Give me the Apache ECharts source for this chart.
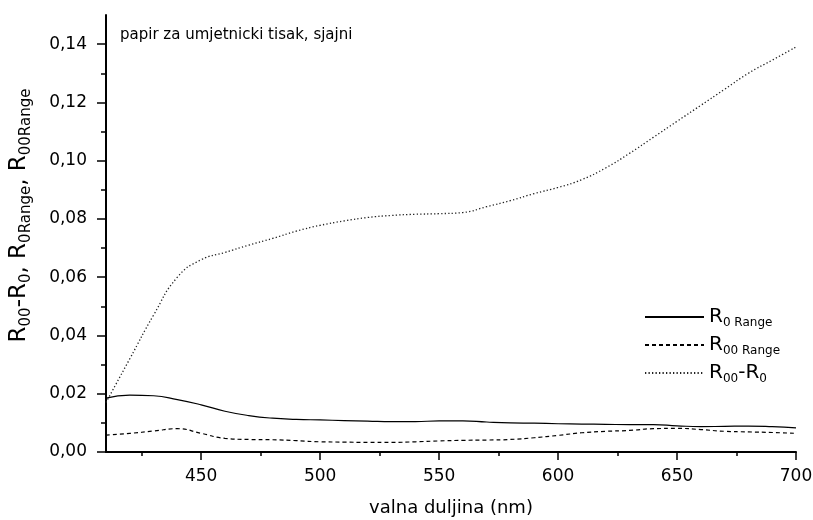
<!DOCTYPE html>
<html>
<head>
<meta charset="utf-8">
<script src="https://cdn.jsdelivr.net/npm/echarts@6/dist/echarts.min.js"></script>
<style>
html,body{margin:0;padding:0;background:#fff;}
#c{width:813px;height:520px;}
</style>
</head>
<body>
<div id="c"></div>
<script>
// ---- data ----
const wavelengths = [410,420,430,440,450,460,470,480,490,500,510,520,530,540,550,560,570,580,590,600,610,620,630,640,650,660,670,680,690,700];
const r0Range = [0.0185,0.0195,0.0193,0.0180,0.0162,0.0140,0.0125,0.0116,0.0112,0.0110,0.0108,0.0106,0.0104,0.0104,0.0107,0.0107,0.0103,0.0100,0.0099,0.0097,0.0096,0.0095,0.0094,0.0094,0.0090,0.0087,0.0088,0.0089,0.0087,0.0083];
const r00Range = [0.0058,0.0064,0.0072,0.0080,0.0064,0.0047,0.0043,0.0042,0.0039,0.0035,0.0034,0.0033,0.0033,0.0035,0.0038,0.0040,0.0041,0.0043,0.0049,0.0057,0.0066,0.0071,0.0074,0.0080,0.0081,0.0077,0.0071,0.0069,0.0067,0.0064];
const r00MinusR0 = [0.017,0.032,0.047,0.060,0.066,0.0685,0.071,0.0733,0.0758,0.0778,0.0793,0.0805,0.0812,0.0816,0.0818,0.0822,0.0842,0.0863,0.0887,0.0908,0.0935,0.0975,0.1025,0.108,0.1135,0.119,0.1245,0.130,0.1345,0.139];
const seriesNames = ['R0 Range','R00 Range','R00-R0'];
const xTicks = [450,500,550,600,650,700];
const xMinorTicks = [425,475,525,575,625,675];
const yTicks = [0,0.02,0.04,0.06,0.08,0.10,0.12,0.14];
const yMinorTicks = [0.01,0.03,0.05,0.07,0.09,0.11,0.13];
const titleText = 'papir za umjetnicki tisak, sjajni';
const xTitle = 'valna duljina (nm)';

// ---- chart ----
const FONT = 'DejaVu Sans';
const pairs = arr => wavelengths.map((w,i) => [w, arr[i]]);
const fmtY = v => v.toFixed(2).replace('.', ',');
const legendRich = {
  m: {fontFamily: FONT, fontSize: 20, lineHeight: 24, color: '#000', verticalAlign: 'middle'},
  s: {fontFamily: FONT, fontSize: 12, lineHeight: 10, color: '#000', verticalAlign: 'bottom'}
};
const legendLabels = {
  'R0 Range': '{m|R}{s|0 Range}',
  'R00 Range': '{m|R}{s|00 Range}',
  'R00-R0': '{m|R}{s|00}{m|-R}{s|0}'
};
const chart = echarts.init(document.getElementById('c'), null, {renderer: 'canvas'});
chart.setOption({
  animation: false,
  backgroundColor: '#fff',
  title: {
    text: titleText, left: 120, top: 28, padding: 0,
    textStyle: {fontFamily: FONT, fontSize: 15, fontWeight: 'normal', color: '#000'}
  },
  grid: {left: 106, right: 17, top: 15, bottom: 68, outerBoundsMode: 'none', containLabel: false},
  legend: {
    orient: 'vertical', left: 639, top: 302, itemWidth: 59, itemHeight: 14, itemGap: 6,
    data: seriesNames,
    formatter: name => legendLabels[name],
    itemStyle: {color: 'rgba(0,0,0,0)', borderWidth: 0, opacity: 0},
    textStyle: {rich: legendRich}
  },
  xAxis: [{
    type: 'value', min: 410, max: 700,
    name: xTitle, nameLocation: 'middle', nameGap: 47,
    nameTextStyle: {fontFamily: FONT, fontSize: 18, color: '#000'},
    axisLine: {show: true, lineStyle: {color: '#000', width: 2}},
    axisTick: {show: true, customValues: xTicks, length: 8, lineStyle: {color: '#000', width: 1.5}},
    axisLabel: {customValues: xTicks, margin: 16, fontFamily: FONT, fontSize: 17, color: '#000'},
    splitLine: {show: false}
  }, {
    type: 'value', min: 410, max: 700, position: 'bottom',
    axisLine: {show: false},
    axisTick: {show: true, customValues: xMinorTicks, length: 4, lineStyle: {color: '#000', width: 1.5}},
    axisLabel: {show: false},
    splitLine: {show: false}
  }],
  yAxis: [{
    type: 'value', min: 0, max: 0.15,
    name: '{m|R}{s|00}{m|-R}{s|0}{m|, R}{s|0Range}{m|, R}{s|00Range}',
    nameLocation: 'middle', nameRotate: 90, nameGap: 72,
    nameTextStyle: {
      padding: [0, 0, 0, 36],
      rich: {
        m: {fontFamily: FONT, fontSize: 23, lineHeight: 30, color: '#000', verticalAlign: 'middle'},
        s: {fontFamily: FONT, fontSize: 15, lineHeight: 11, color: '#000', verticalAlign: 'bottom'}
      }
    },
    axisLine: {show: true, lineStyle: {color: '#000', width: 2}},
    axisTick: {show: true, customValues: yTicks, length: 9, lineStyle: {color: '#000', width: 1.5}},
    axisLabel: {customValues: yTicks, formatter: fmtY, margin: 19, fontFamily: FONT, fontSize: 17, color: '#000'},
    splitLine: {show: false}
  }, {
    type: 'value', min: 0, max: 0.15, position: 'left',
    axisLine: {show: false},
    axisTick: {show: true, customValues: yMinorTicks, length: 5, lineStyle: {color: '#000', width: 1.5}},
    axisLabel: {show: false},
    splitLine: {show: false}
  }],
  series: [{
    name: seriesNames[0], type: 'line', data: pairs(r0Range), smooth: true,
    symbol: 'none', lineStyle: {color: '#000', width: 1.2, type: 'solid'}, itemStyle: {color: '#000'}
  }, {
    name: seriesNames[1], type: 'line', data: pairs(r00Range), smooth: true,
    symbol: 'none', lineStyle: {color: '#000', width: 1.2, type: [4, 3]}, itemStyle: {color: '#000'}
  }, {
    name: seriesNames[2], type: 'line', data: pairs(r00MinusR0), smooth: true,
    symbol: 'none', lineStyle: {color: '#222', width: 1.3, type: [1.3, 2.2]}, itemStyle: {color: '#222'}
  }]
});
</script>
</body>
</html>
